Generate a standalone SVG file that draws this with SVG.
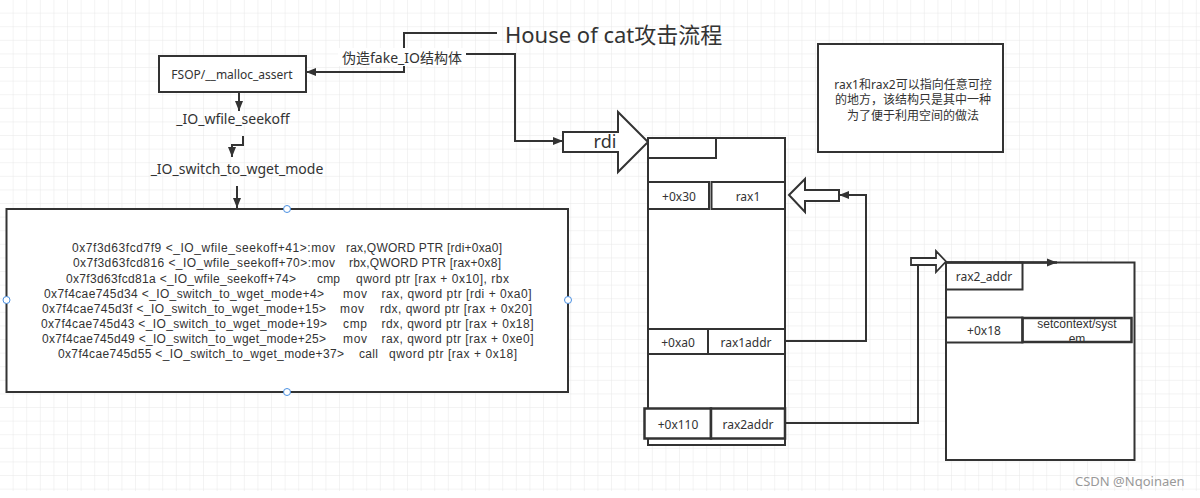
<svg xmlns="http://www.w3.org/2000/svg" width="1200" height="498" viewBox="0 0 1200 498">
<defs>
<pattern id="grid" width="13.6" height="13.6" patternUnits="userSpaceOnUse">
<path d="M13.6 0 V13.6 M0 13.6 H13.6" fill="none" stroke="#e8e8e8" stroke-width="1"/>
</pattern>
<marker id="ah" viewBox="0 0 10 10" refX="10" refY="5" markerWidth="10" markerHeight="10" markerUnits="userSpaceOnUse" orient="auto">
<path d="M0,1 L10,5 L0,9 z" fill="#333"/>
</marker>
<style>
.box{fill:#fff;stroke:#333;stroke-width:2}
.thick{fill:#fff;stroke:#333;stroke-width:2.5}
.conn{fill:none;stroke:#333;stroke-width:2}
.t{font-family:"Noto Sans","Noto Sans CJK SC",sans-serif;fill:#333;text-anchor:middle;dominant-baseline:central}
.s12{font-size:12px}
.s14{font-size:14px}
.code{font-family:"Liberation Sans",Arial,sans-serif;fill:#333;font-size:12px;dominant-baseline:central}
.wrap{font-family:"Liberation Sans",Arial,sans-serif;fill:#333;font-size:12px;text-anchor:middle;dominant-baseline:central}
.h{fill:#fff;stroke:#4a90e2;stroke-width:1}
</style>
</defs>
<rect x="0" y="0" width="1200" height="498" fill="#fff"/>
<rect x="0" y="0" width="1200" height="491" fill="url(#grid)"/>

<g id="connectors">
<path class="conn" d="M497,33 H404 V72 H306" marker-end="url(#ah)"/>
<path class="conn" d="M466,54 H515 V141 H563" marker-end="url(#ah)"/>
<path class="conn" d="M239,92 V111" marker-end="url(#ah)"/>
<path class="conn" d="M243,136 V145 H232 V157" marker-end="url(#ah)"/>
<path class="conn" d="M237,186 V208" marker-end="url(#ah)"/>
<path class="conn" d="M785,341 H866 V195 H839" marker-end="url(#ah)"/>
<path class="conn" d="M785,423 H918 V265"/>
</g>

<g id="title">
<text class="t" x="505" y="34" style="font-size:22px;text-anchor:start">House of cat攻击流程</text>
</g>

<g id="label-fake">
<rect x="338" y="48" width="128" height="18" fill="#fff"/>
<text class="t" x="402" y="57" style="font-size:14px">伪造fake_IO结构体</text>
</g>

<g id="fsop">
<rect class="box" x="159" y="56" width="147" height="36"/>
<text class="t s12" x="232" y="74">FSOP/__malloc_assert</text>
</g>

<g id="seekoff">
<text class="t s14" x="233" y="118">_IO_wfile_seekoff</text>
</g>

<g id="switch">
<text class="t s14" x="237" y="168">_IO_switch_to_wget_mode</text>
</g>

<g id="code-box">
<rect class="box" x="6.5" y="209" width="561.5" height="183"/>
<text class="code" y="248"><tspan x="72" textLength="263">0x7f3d63fcd7f9 &lt;_IO_wfile_seekoff+41&gt;:mov</tspan><tspan x="346" textLength="156">rax,QWORD PTR [rdi+0xa0]</tspan></text>
<text class="code" y="263"><tspan x="73" textLength="262">0x7f3d63fcd816 &lt;_IO_wfile_seekoff+70&gt;:mov</tspan><tspan x="349" textLength="152">rbx,QWORD PTR [rax+0x8]</tspan></text>
<text class="code" y="278.5"><tspan x="66" textLength="230">0x7f3d63fcd81a &lt;_IO_wfile_seekoff+74&gt;</tspan><tspan x="317" textLength="23">cmp</tspan><tspan x="356" textLength="153">qword ptr [rax + 0x10], rbx</tspan></text>
<text class="code" y="294"><tspan x="44" textLength="280">0x7f4cae745d34 &lt;_IO_switch_to_wget_mode+4&gt;</tspan><tspan x="343" textLength="24">mov</tspan><tspan x="381.5" textLength="150">rax, qword ptr [rdi + 0xa0]</tspan></text>
<text class="code" y="308.5"><tspan x="42" textLength="284">0x7f4cae745d3f &lt;_IO_switch_to_wget_mode+15&gt;</tspan><tspan x="340" textLength="24">mov</tspan><tspan x="380" textLength="152">rdx, qword ptr [rax + 0x20]</tspan></text>
<text class="code" y="323.5"><tspan x="41" textLength="286">0x7f4cae745d43 &lt;_IO_switch_to_wget_mode+19&gt;</tspan><tspan x="343" textLength="24">cmp</tspan><tspan x="381.5" textLength="152">rdx, qword ptr [rax + 0x18]</tspan></text>
<text class="code" y="338.5"><tspan x="42" textLength="284">0x7f4cae745d49 &lt;_IO_switch_to_wget_mode+25&gt;</tspan><tspan x="343" textLength="24">mov</tspan><tspan x="381.5" textLength="152">rax, qword ptr [rax + 0xe0]</tspan></text>
<text class="code" y="353.5"><tspan x="58" textLength="286">0x7f4cae745d55 &lt;_IO_switch_to_wget_mode+37&gt;</tspan><tspan x="359" textLength="19">call</tspan><tspan x="389" textLength="128">qword ptr [rax + 0x18]</tspan></text>
<circle class="h" cx="287" cy="209" r="3.5"/>
<circle class="h" cx="287" cy="392" r="3.5"/>
<circle class="h" cx="6.5" cy="300" r="3.5"/>
<circle class="h" cx="568" cy="300" r="3.5"/>
</g>

<g id="rdi-arrow">
<polygon class="box" points="563,132 618,132 618,112 648,142 618,172 618,152 563,152"/>
<text class="t" x="605" y="141" style="font-size:18px">rdi</text>
</g>

<g id="fake-io-struct">
<rect class="box" x="648" y="138" width="137" height="307"/>
<rect class="box" x="648" y="138" width="68" height="20"/>
<rect class="box" x="648" y="182" width="61" height="27"/>
<rect class="box" x="711.5" y="182" width="73.5" height="27"/>
<text class="t s12" x="679" y="196">+0x30</text>
<text class="t s12" x="748" y="196">rax1</text>
<rect class="box" x="648" y="329" width="60" height="25"/>
<rect class="box" x="708" y="329" width="77" height="25"/>
<text class="t s12" x="678" y="342">+0xa0</text>
<text class="t s12" x="746" y="342">rax1addr</text>
<rect class="thick" x="644.5" y="408.5" width="66.5" height="30"/>
<rect class="thick" x="711" y="408.5" width="74" height="30"/>
<text class="t s12" x="678" y="424">+0x110</text>
<text class="t s12" x="748" y="424">rax2addr</text>
</g>

<g id="rax1-arrow">
<polygon class="box" points="789,195 805,179 805,190 839,190 839,201 805,201 805,212"/>
</g>

<g id="note">
<rect class="box" x="818" y="44" width="185" height="108"/>
<text class="t s12" x="913" y="84">rax1和rax2可以指向任意可控</text>
<text class="t s12" x="913" y="99.5">的地方，该结构只是其中一种</text>
<text class="t s12" x="913" y="115">为了便于利用空间的做法</text>
</g>

<g id="rax2-struct">
<rect class="box" x="946" y="262.5" width="188.5" height="197.5"/>
<rect class="box" x="946" y="262.5" width="76.5" height="27"/>
<text class="t s12" x="984" y="276">rax2_addr</text>
<rect class="box" x="946" y="317.5" width="76.5" height="25"/>
<text class="t s12" x="984" y="330">+0x18</text>
<rect class="thick" x="1022.5" y="318" width="109" height="24" style="fill:none"/>
<text class="wrap" x="1077" y="324">setcontext/syst</text>
<text class="wrap" x="1077" y="338.5">em</text>
</g>

<g id="rax2-arrow">
<polygon class="box" points="911,258 936,258 936,251 946,261.5 936,272 936,265 911,265" style="stroke-width:1.8"/>
<path class="conn" d="M946,262.5 H1057" marker-end="url(#ah)" style="stroke-width:2.5"/>
</g>

<g id="watermark">
<text x="1075" y="481" style="font-family:'Noto Sans',sans-serif;font-size:13px;fill:#999;dominant-baseline:central">CSDN @Nqoinaen</text>
</g>
</svg>
